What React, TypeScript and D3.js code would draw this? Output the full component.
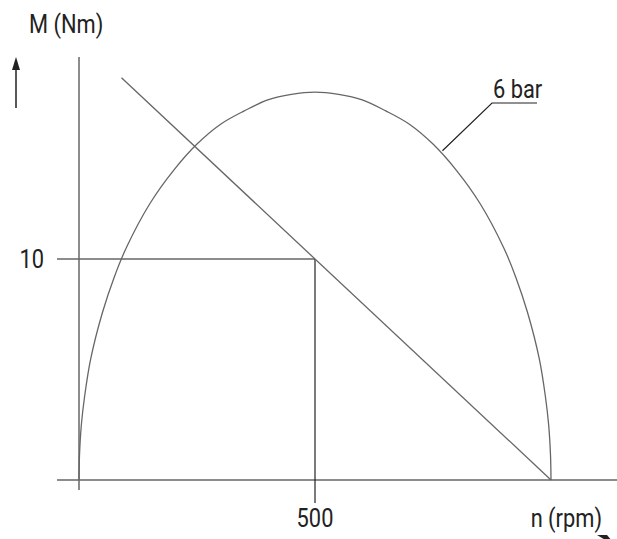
import React, { useEffect, useRef } from "react";
import * as d3 from "d3";

// torque curve at 6 bar
const curveN = [0, 1, 5, 12, 25, 50, 75, 100, 150, 200, 250, 300, 350, 400, 450, 500, 550, 600, 650, 700, 750, 800, 850, 900, 925, 950, 975, 988, 995, 999, 1000];
const curveM = [0, 1.1, 2.5, 3.8, 5.5, 7.6, 9.2, 10.5, 12.5, 14.0, 15.2, 16.1, 16.7, 17.2, 17.45, 17.55, 17.45, 17.2, 16.7, 16.1, 15.2, 14.0, 12.5, 10.5, 9.2, 7.6, 5.5, 3.8, 2.5, 1.1, 0];

// straight load line
const lineN = [90, 1000];
const lineM = [18.2, 0];

// marked operating point
const markN = 500;
const markM = 10;

const xTicks = [500];
const yTicks = [10];
const seriesLabel = "6 bar";
const labelAnchor = [770, 14.9];

const App = () => {
  const ref = useRef<SVGSVGElement | null>(null);

  useEffect(() => {
    const svg = d3.select(ref.current);
    svg.selectAll("*").remove();

    const x = d3.scaleLinear().domain([0, 1000]).range([79, 551]);
    const y = d3.scaleLinear().domain([0, 10]).range([480, 259]);

    const ink = "#222";
    const grey = "#666";

    // narrow lettering like the drawing
    const label = (tx: number, ty: number, str: string, anchor = "start") =>
      svg.append("text")
        .attr("transform", `translate(${tx},${ty}) scale(0.84,1)`)
        .attr("text-anchor", anchor)
        .attr("font-family", "Roboto, sans-serif")
        .attr("font-size", 26)
        .attr("fill", ink)
        .text(str);

    // axes
    svg.append("line")
      .attr("x1", x(0)).attr("x2", x(0))
      .attr("y1", 57).attr("y2", 490)
      .attr("stroke", grey).attr("stroke-width", 1.5);
    svg.append("line")
      .attr("x1", 57).attr("x2", 617)
      .attr("y1", y(0)).attr("y2", y(0))
      .attr("stroke", grey).attr("stroke-width", 1.5);

    // guide lines to the marked point
    svg.append("line")
      .attr("x1", 57).attr("x2", x(markN))
      .attr("y1", y(markM)).attr("y2", y(markM))
      .attr("stroke", grey).attr("stroke-width", 1.5);
    svg.append("line")
      .attr("x1", x(markN)).attr("x2", x(markN))
      .attr("y1", y(markM)).attr("y2", y(0) + 23)
      .attr("stroke", ink).attr("stroke-width", 1.2);

    // tick labels
    yTicks.forEach((d) => label(44, y(d) + 9, String(d), "end"));
    xTicks.forEach((d) => label(x(d), 527, String(d), "middle"));

    // axis titles
    label(29, 33, "M (Nm)");
    label(602, 527, "n (rpm)", "end");

    // small arrows next to axis titles
    svg.append("line")
      .attr("x1", 16).attr("x2", 16).attr("y1", 108).attr("y2", 66)
      .attr("stroke", ink).attr("stroke-width", 1.5);
    svg.append("path")
      .attr("d", "M16,57 L12,70 L20,70 Z").attr("fill", ink);
    svg.append("path")
      .attr("d", "M597,535 L607,535 L612,541 L607,541 Z").attr("fill", ink);

    // curve
    const pts: [number, number][] = curveN.map((n, i) => [n, curveM[i]]);
    svg.append("path")
      .attr("fill", "none").attr("stroke", grey).attr("stroke-width", 1.3)
      .attr("d", d3.line<[number, number]>()
        .x((d) => x(d[0])).y((d) => y(d[1]))
        .curve(d3.curveCatmullRom)(pts) as string);

    // load line
    const lp: [number, number][] = lineN.map((n, i) => [n, lineM[i]]);
    svg.append("path")
      .attr("fill", "none").attr("stroke", grey).attr("stroke-width", 1.3)
      .attr("d", d3.line<[number, number]>().x((d) => x(d[0])).y((d) => y(d[1]))(lp) as string);

    // series label with leader
    const lx = 492, ly = 103;
    svg.append("path")
      .attr("d", `M${x(labelAnchor[0])},${y(labelAnchor[1])} L${lx},${ly} L${lx + 45},${ly}`)
      .attr("fill", "none").attr("stroke", ink).attr("stroke-width", 1.2);
    label(lx + 1, ly - 5, seriesLabel);
  }, []);

  return (
    <svg ref={ref} width={617} height={539} style={{ position: "absolute", left: 0, top: 0, background: "#fff" }} />
  );
};

export default App;
